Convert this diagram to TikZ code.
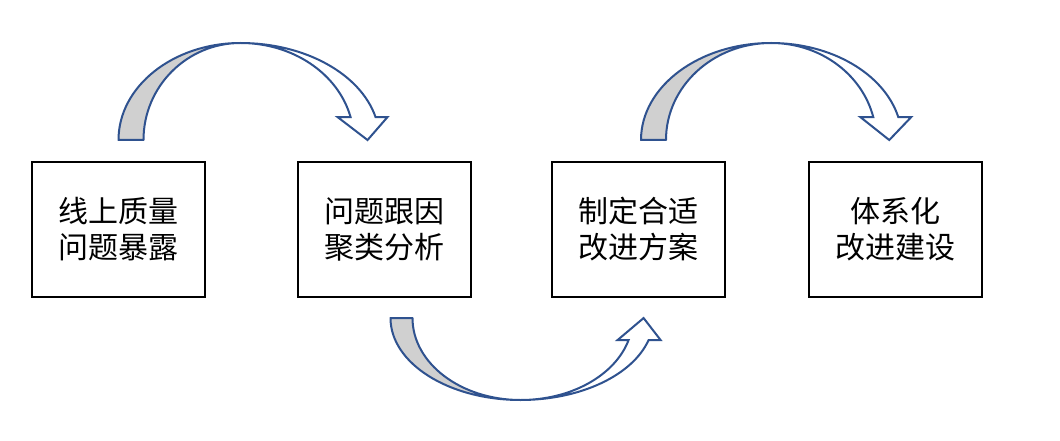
\documentclass[tikz,border=0pt]{standalone}
\usepackage{fontspec}
\setmainfont{Noto Sans CJK SC}
\usepackage{tikz}
\usetikzlibrary{positioning, calc}
\definecolor{ArrowBlue}{RGB}{47, 82, 143}
\definecolor{ArrowGray}{RGB}{208, 208, 208}

\tikzset{
  stagebox/.style={draw=black, fill=white, line width=2pt, outer sep=0pt, inner sep=0pt,
    minimum width=173pt, minimum height=135pt, align=center,
    font=\fontsize{30}{36}\selectfont},
  bandgray/.style={draw=ArrowBlue, fill=ArrowGray, line width=2pt, line join=round},
  bandwhite/.style={draw=ArrowBlue, fill=white, line width=2pt, line join=miter}
}

\begin{document}
\begin{tikzpicture}[x=1pt, y=1pt]
        \useasboundingbox (0,0) rectangle (1060,440);

        % four stages
        \node[stagebox] (expose) at (118.5,210.5) {线上质量\\问题暴露};
        \node[stagebox, right=93pt of expose] (analyse) {问题跟因\\聚类分析};
        \node[stagebox, right=81pt of analyse] (plan) {制定合适\\改进方案};
        \node[stagebox, right=84pt of plan] (build) {体系化\\改进建设};

        % curved arrow: expose -> analyse
        \coordinate (startA) at ($(expose.north)+(0,22)$);
        \filldraw[bandgray] (startA) arc[start angle=180, end angle=90, x radius=122, y radius=97]
          coordinate (topA) arc[start angle=90, end angle=180, x radius=97, y radius=97] -- cycle;
        \filldraw[bandwhite] (topA) arc[start angle=90, end angle=13.7, x radius=139, y radius=97]
          -- ++(12,0) -- ++(-20,-23) -- ++(-30,23) -- ++(13,0)
          arc[start angle=13.7, end angle=90, x radius=113, y radius=97] -- cycle;

        % curved arrow: analyse -> plan
        \coordinate (startB) at ($(analyse.south)+(6,-21)$);
        \filldraw[bandgray] (startB) arc[start angle=180, end angle=270, x radius=130, y radius=82]
          coordinate (botB) arc[start angle=270, end angle=180, x radius=108, y radius=82] -- cycle;
        \filldraw[bandwhite] (botB) arc[start angle=270, end angle=344.4, x radius=133, y radius=82]
          -- ++(12,0) -- ++(-17,22) -- ++(-26,-22) -- ++(11,0)
          arc[start angle=344.4, end angle=270, x radius=112, y radius=82] -- cycle;

        % curved arrow: plan -> build
        \coordinate (startC) at ($(plan.north)+(2.5,22)$);
        \filldraw[bandgray] (startC) arc[start angle=180, end angle=90, x radius=130, y radius=97]
          coordinate (topC) arc[start angle=90, end angle=180, x radius=105, y radius=97] -- cycle;
        \filldraw[bandwhite] (topC) arc[start angle=90, end angle=13.7, x radius=131, y radius=97]
          -- ++(13,0) -- ++(-22,-23) -- ++(-29,23) -- ++(13,0)
          arc[start angle=13.7, end angle=90, x radius=105, y radius=97] -- cycle;
\end{tikzpicture}
\end{document}
